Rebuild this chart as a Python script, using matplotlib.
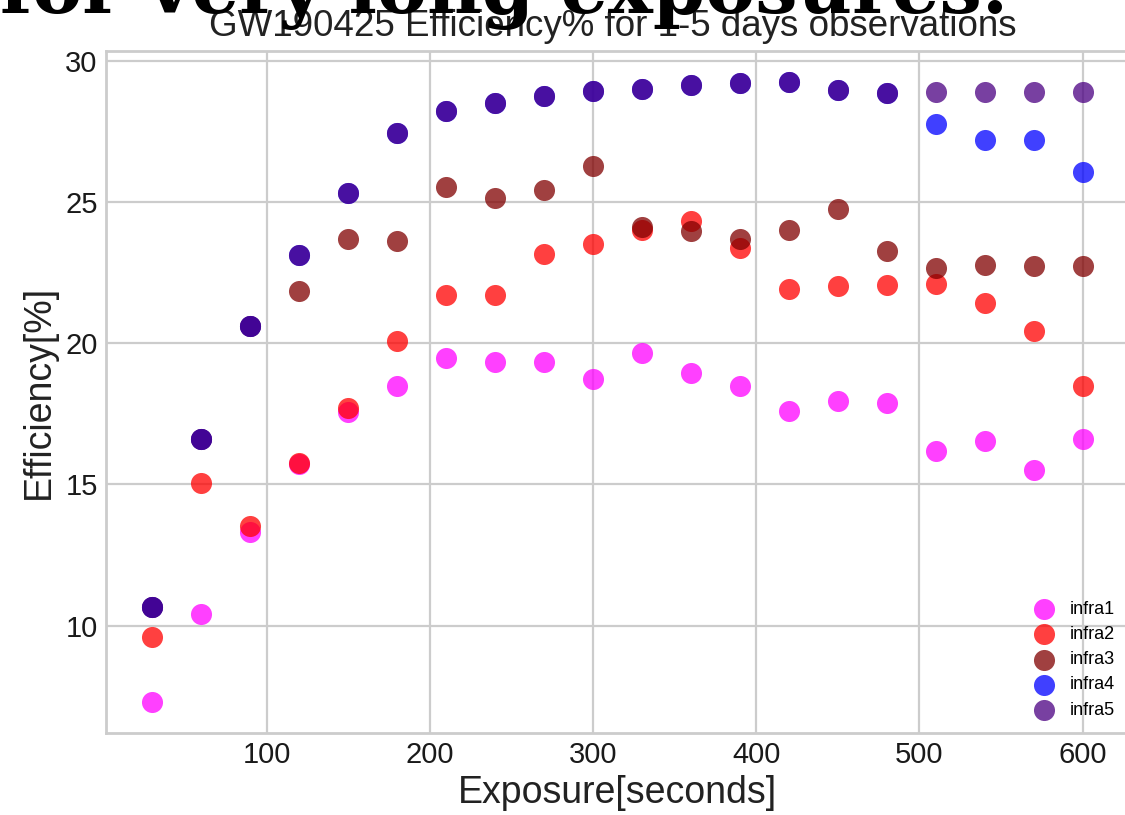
import matplotlib
matplotlib.use("Agg")
import matplotlib.pyplot as plt

# exposure times in seconds
exposure = [30, 60, 90, 120, 150, 180, 210, 240, 270, 300,
            330, 360, 390, 420, 450, 480, 510, 540, 570, 600]

# efficiency [%] per instrument
infra1 = [7.3, 10.42, 13.3, 15.72, 17.55, 18.5, 19.48, 19.33, 19.33, 18.72,
          19.65, 18.95, 18.5, 17.59, 17.94, 17.88, 16.2, 16.52, 15.5, 16.6]
infra2 = [9.6, 15.06, 13.54, 15.77, 17.72, 20.07, 21.72, 21.72, 23.17, 23.52,
          24.0, 24.31, 23.38, 21.9, 22.01, 22.07, 22.08, 21.43, 20.44, 18.47]
infra3 = [10.65, 16.6, 20.61, 21.86, 23.68, 23.63, 25.53, 25.15, 25.43, 26.27,
          24.12, 23.96, 23.7, 24.0, 24.75, 23.25, 22.66, 22.76, 22.72, 22.74]
infra4 = [10.65, 16.6, 20.61, 23.13, 25.3, 27.45, 28.2, 28.48, 28.76, 28.92,
          29.0, 29.12, 29.2, 29.24, 28.95, 28.86, 27.75, 27.2, 27.2, 26.07]
infra5 = [10.65, 16.6, 20.61, 23.13, 25.3, 27.45, 28.2, 28.48, 28.76, 28.92,
          29.0, 29.12, 29.2, 29.24, 28.95, 28.86, 28.88, 28.88, 28.88, 28.88]

series = [("infra1", infra1, "magenta"),
          ("infra2", infra2, "red"),
          ("infra3", infra3, "maroon"),
          ("infra4", infra4, "blue"),
          ("infra5", infra5, "indigo")]

plt.rcParams["font.family"] = ["Liberation Sans", "DejaVu Sans"]

fig = plt.figure(figsize=(11.25, 8.15), dpi=100)
ax = fig.add_axes([0.0942, 0.1006, 0.9094, 0.8368])

for name, vals, col in series:
    ax.scatter(exposure, vals, s=230, color=col, alpha=0.75,
               linewidths=0, label=name)

ax.grid(True, color="#cccccc", linewidth=1.6)
ax.set_axisbelow(True)
for sp in ax.spines.values():
    sp.set_color("#cccccc")
    sp.set_linewidth(2)
ax.tick_params(length=0, labelsize=21, pad=6, colors="#1a1a1a")
ax.set_xticks([100, 200, 300, 400, 500, 600])
ax.set_yticks([10, 15, 20, 25, 30])

ttl = ax.set_title("GW190425 Efficiency% for 1-5 days observations",
                   fontsize=26.5, pad=10.5, color="#222222")
ttl.set_x(0.495)
ax.set_xlabel("Exposure[seconds]", fontsize=27, color="#222222", labelpad=4)
ax.set_ylabel("Efficiency[%]", fontsize=27, color="#222222", labelpad=6)

ax.legend(loc="lower right", fontsize=13, frameon=False,
          handletextpad=0.4, labelspacing=0.45,
          borderaxespad=0.4, bbox_to_anchor=(1.0, 0.0))

# leftover line of a larger heading, mostly above the top edge
fig.text(0.0, 0.984, "for very long exposures.", fontsize=54,
         family="DejaVu Serif", weight="bold", va="baseline", ha="left")

fig.savefig("out.png", dpi=100)
